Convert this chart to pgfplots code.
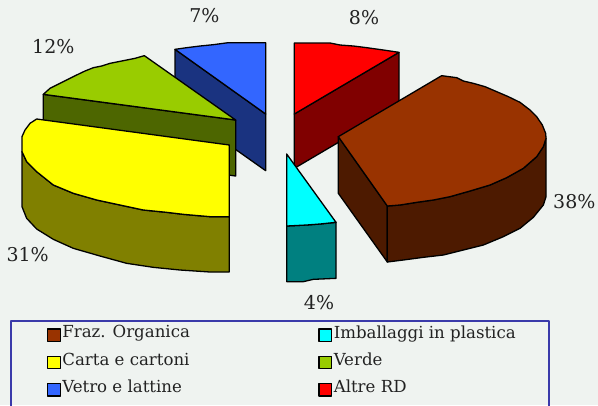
\documentclass[border=0pt]{standalone}
\usepackage{pgfplots}
\pgfplotsset{compat=1.18}
\usepackage{fontspec}
\setmainfont{DejaVu Serif}
\definecolor{bg}{HTML}{EFF3F0}
\definecolor{bt}{HTML}{993300}\definecolor{bs}{HTML}{4D1A00}
\definecolor{yt}{HTML}{FFFF00}\definecolor{ys}{HTML}{808000}
\definecolor{gt}{HTML}{99CC00}\definecolor{gs}{HTML}{4D6600}
\definecolor{lt}{HTML}{3366FF}\definecolor{ls}{HTML}{1A3380}
\definecolor{rt}{HTML}{FF0000}\definecolor{rs}{HTML}{800000}
\definecolor{ct}{HTML}{00FFFF}\definecolor{cs}{HTML}{008080}
\definecolor{boxc}{HTML}{3A3AAA}
\definecolor{txt}{HTML}{222222}
\begin{document}
\begin{tikzpicture}
\begin{axis}[
  scale only axis, width=598pt, height=405pt,
  xmin=0, xmax=1794, ymin=0, ymax=1215, y dir=reverse,
  axis lines=none, ticks=none, clip=true,
  axis background/.style={fill=bg},
  every axis plot/.append style={draw=black, line width=1.3pt, line join=round, forget plot},
  legend columns=2,
  legend cell align=left,
  legend image code/.code={\draw[#1,line width=1.3pt] (0pt,3.5pt) rectangle (12.5pt,-9pt);},
  legend style={at={(0.0786,0.2)}, anchor=north west, draw=none, fill=none,
    font=\fontsize{16.6}{18}\selectfont, text=txt, inner sep=0pt, outer sep=0pt,
    /tikz/column 2/.style={column sep=127pt},
    /tikz/row sep=9pt,
    nodes={inner sep=1.5pt, anchor=west}},
]
% legend entries
\addlegendimage{fill=bt, draw=black}
\addlegendimage{fill=ct, draw=black}
\addlegendimage{fill=yt, draw=black}
\addlegendimage{fill=gt, draw=black}
\addlegendimage{fill=lt, draw=black}
\addlegendimage{fill=rt, draw=black}
\legend{Fraz. Organica,Imballaggi in plastica,Carta e cartoni,Verde,Vetro e lattine,Altre RD}
% legend frame
\addplot[color=boxc, draw=boxc, line width=1.2pt] coordinates {(33,1230)(33,963)(1647,963)(1647,1230)};
% blue
\addplot[fill=ls] coordinates {(525,148)(797,342)(797,512)(525,320)} -- cycle;
\addplot[fill=lt] coordinates {(525,148)(560,143)(600,138)(640,134)(685,128)(797,128)(797,342)} -- cycle;
% red
\addplot[fill=rs] coordinates {(883,342)(1197,157)(1197,320)(883,505)} -- cycle;
\addplot[fill=rt] coordinates {(883,129)(990,129)(1020,135)(1060,138)(1100,143)(1150,150)(1197,157)(883,342)} -- cycle;
% green
\addplot[fill=gs] coordinates {(130,283)(707,360)(707,528)(130,450)} -- cycle;
\addplot[fill=gt] coordinates {(433,167)(405,175)(380,180)(330,190)(305,198)(280,203)(255,213)(230,225)(190,245)(150,265)(130,283)(707,360)} -- cycle;
% yellow
\addplot[fill=ys] coordinates {(66,455)(66,620)(80,655)(110,687)(160,718)(220,745)(300,768)(380,790)(460,802)(540,810)(630,816)(688,816)(688,650)(630,650)(550,643)(500,637)(430,630)(360,615)(290,600)(220,580)(160,555)(110,515)(80,485)} -- cycle;
\addplot[fill=yt] coordinates {(110,357)(688,435)(688,650)(630,650)(550,643)(500,637)(430,630)(360,615)(290,600)(220,580)(160,555)(110,515)(80,485)(66,455)(66,410)(75,390)(90,370)} -- cycle;
% brown
\addplot[fill=bs] coordinates {(1015,410)(1162,618)(1162,786)(1015,580)} -- cycle;
\addplot[fill=bs] coordinates {(1162,618)(1200,615)(1250,607)(1300,600)(1350,590)(1410,573)(1470,555)(1520,533)(1570,505)(1610,470)(1630,440)(1638,415)(1638,590)(1630,615)(1600,652)(1560,685)(1510,710)(1450,735)(1390,750)(1330,765)(1270,772)(1210,780)(1162,786)} -- cycle;
\addplot[fill=bt] coordinates {(1015,410)(1325,227)(1370,233)(1390,243)(1420,250)(1455,260)(1490,275)(1525,290)(1560,307)(1590,330)(1610,350)(1627,375)(1637,400)(1638,415)(1630,440)(1610,470)(1570,505)(1520,533)(1470,555)(1410,573)(1350,590)(1300,600)(1250,607)(1200,615)(1162,618)} -- cycle;
% cyan
\addplot[fill=cs] coordinates {(860,678)(920,675)(960,672)(1008,667)(1008,835)(940,838)(910,845)(860,845)} -- cycle;
\addplot[fill=ct] coordinates {(860,462)(1008,667)(960,672)(920,675)(860,678)} -- cycle;
% labels
\begin{scope}[every node/.style={text=txt, font=\fontsize{19}{20}\selectfont, inner sep=0pt}]
\node at (axis cs:613,47) {7\%};
\node at (axis cs:160,140) {12\%};
\node at (axis cs:83,763) {31\%};
\node at (axis cs:1092,52) {8\%};
\node at (axis cs:1723,604) {38\%};
\node at (axis cs:957,908) {4\%};
\end{scope}
\end{axis}
\end{tikzpicture}
\end{document}
